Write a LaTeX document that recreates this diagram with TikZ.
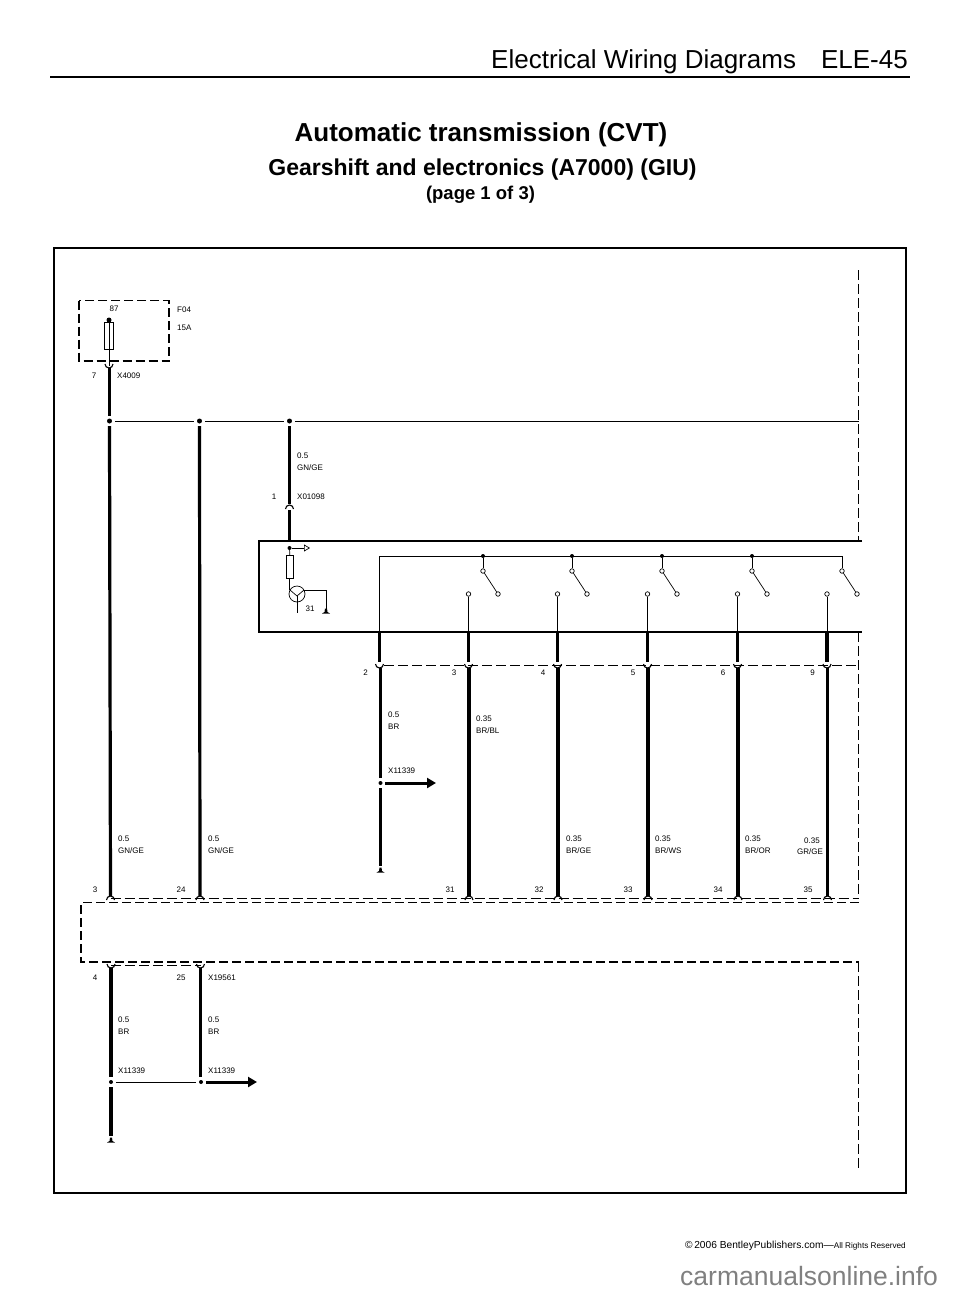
\documentclass[tikz,border=0pt]{standalone}
\usepackage{fontspec}
\setmainfont{Liberation Sans}
\usetikzlibrary{arrows.meta, calc}
\tikzset{
    wire/.style={line width=3.2pt},
    thinwire/.style={line width=0.7pt},
    boxline/.style={line width=1.6pt},
    dashline/.style={line width=1.2pt, dash pattern=on 9pt off 4pt},
    dashthin/.style={line width=0.6pt, dash pattern=on 10pt off 4pt},
    tag/.style={font=\fontsize{8}{9}\selectfont, inner sep=0pt, anchor=west},
    pin/.style={font=\fontsize{8}{9}\selectfont, inner sep=0pt},
    dot/.style={circle, fill=black, inner sep=0pt, minimum size=5pt},
    ring/.style={circle, draw, fill=white, line width=0.7pt, inner sep=0pt, minimum size=4.5pt},
    splice/.style={thinwire, shorten <=3pt, shorten >=3pt},
    bigarrow/.style={line width=3pt, -{Triangle[length=9pt,width=10pt]}}
}
% cup opening upwards, arch opening downwards, earth symbol
\newcommand{\cupat}[1]{\draw[line width=1.1pt] ($(#1)+(-4,-3)$) arc[start angle=180, end angle=360, radius=4pt];}
\newcommand{\archat}[1]{\draw[line width=1.1pt] ($(#1)+(-4,3)$) arc[start angle=180, end angle=0, radius=4pt];}
\newcommand{\gndat}[1]{\fill ($(#1)+(-4,2.5)$) -- ++(8,0) -- ++(-2.5,-1.5) -- ++(-0.5,-3.5) -- ++(-2,0) -- ++(-0.5,3.5) -- cycle;}
\begin{document}
\begin{tikzpicture}[x=1pt, y=-1pt]
    \useasboundingbox (0, 0) rectangle (960, 1295);

    % heading
    \node[anchor=base east, inner sep=0pt, font=\fontsize{26}{28}\selectfont] (head) at (908, 69) {Electrical Wiring Diagrams\hspace{25pt}ELE-45};
    \coordinate (ruleL) at (50, 77);
    \coordinate (ruleR) at (910, 77);
    \draw[line width=1.1pt] (ruleL) -- (ruleR);
    \node[anchor=base, inner sep=0pt, font=\bfseries\fontsize{26}{28}\selectfont] (title) at (481, 142) {Automatic transmission (CVT)};
    \node[anchor=base, inner sep=0pt, font=\bfseries\fontsize{23}{24}\selectfont] (subtitle) at (482.5, 175) {Gearshift and electronics (A7000) (GIU)};
    \node[anchor=base, inner sep=0pt, font=\bfseries\fontsize{18.5}{20}\selectfont] (pagenote) at (480.5, 199) {(page 1 of 3)};

    % frame
    \draw[line width=2pt] (54, 248) rectangle (906, 1193);

    % fuse box
    \draw[dashline] (79, 300.5) rectangle (169, 361);
    \node[pin] (p87) at (114, 309) {87};
    \node[tag] (f04) at (177, 310) {F04};
    \node[tag] (a15) at (177, 328) {15A};
    \node[dot] (fusetop) at (109, 320) {};
    \node[draw, thinwire, fill=white, minimum width=9.5pt, minimum height=27pt, inner sep=0pt] (fuse) at (109, 335.5) {};
    \coordinate (fusejoint) at (109, 366);
    \draw[thinwire] (fusetop) -- (fuse.north);
    \draw[thinwire] (fuse.north) -- (fuse.south);
    \draw[thinwire] (fuse.south) -- (fusejoint);
    \cupat{109, 367}
    \node[pin] (p7) at (94, 376) {7};
    \node[tag] (x4009) at (117, 376) {X4009};

    % splice line
    \node[dot] (splA) at (109.5, 421) {};
    \node[dot] (splB) at (199.5, 421) {};
    \node[dot] (splC) at (289.5, 421) {};
    \coordinate (splD) at (858.5, 421);
    \draw[splice] (splA) -- (splB);
    \draw[splice] (splB) -- (splC);
    \draw[thinwire, shorten <=3pt] (splC) -- (splD);

    % long wires
    \coordinate (a0) at (109.5, 368);
    \coordinate (a1) at (109.5, 416);
    \coordinate (a2) at (109.5, 426);
    \coordinate (a3) at (110.5, 896);
    \coordinate (b1) at (199.5, 426);
    \coordinate (b2) at (200, 896);
    \draw[wire] (a0) -- (a1);
    \draw[wire] (a2) -- (a3);
    \draw[wire] (b1) -- (b2);
    \coordinate (c1) at (289.5, 426);
    \coordinate (c2) at (289.5, 504);
    \coordinate (c3) at (289.5, 510);
    \coordinate (c4) at (289.5, 541);
    \draw[wire] (c1) -- (c2);
    \draw[wire] (c3) -- (c4);
    \archat{289.5, 506}
    \node[tag] (c05) at (297, 456) {0.5};
    \node[tag] (cgnge) at (297, 468) {GN/GE};
    \node[pin] (p1) at (274, 497) {1};
    \node[tag] (x01098) at (297, 497) {X01098};

    % control module
    \coordinate (modTL) at (259, 541);
    \coordinate (modBL) at (259, 632);
    \coordinate (modTR) at (862, 541);
    \coordinate (modBR) at (862, 632);
    \draw[boxline] (modTR) -- (modTL) -- (modBL) -- (modBR);
    \node[dot, minimum size=4pt] (inD) at (289.5, 548) {};
    \coordinate (inE) at (310, 548);
    \draw[thinwire, -{Triangle[open, length=6pt, width=7pt]}] (inD) -- (inE);
    \node[draw, thinwire, minimum width=6.5pt, minimum height=23.5pt, inner sep=0pt] (rfuse) at (289.8, 567) {};
    \coordinate (trbase) at (289.8, 590);
    \draw[thinwire] (inD) -- (rfuse.north);
    \draw[thinwire] (rfuse.south) -- (trbase);
    \node[circle, draw, thinwire, minimum size=16pt, inner sep=0pt] (trans) at (297, 594) {};
    \coordinate (trE) at (297, 612.5);
    \coordinate (trL) at (290, 590);
    \coordinate (trM) at (297, 596);
    \coordinate (trR) at (304, 590);
    \draw[thinwire] (trL) -- (trM) -- (trR);
    \draw[thinwire] (trM) -- (trE);
    \coordinate (gndT) at (326, 590);
    \coordinate (gndB) at (326, 610);
    \draw[thinwire] (trR) -- (gndT) -- (gndB);
    \gndat{326, 611}
    \node[pin] (p31) at (310, 609) {31};

    % switch rail
    \coordinate (railL) at (379.5, 556);
    \coordinate (railR) at (842, 556);
    \coordinate (railB) at (379.5, 632);
    \draw[thinwire] (railB) -- (railL) -- (railR);
    \foreach \name/\xa/\xb/\xc in {s3/483/498/468.5, s4/572/587/557.5, s5/662/677/647.5, s6/752/767/737.5} {
        \node[dot, minimum size=4pt] (\name top) at (\xa, 556) {};
        \node[ring] (\name pole) at (\xa, 571) {};
        \node[ring] (\name throw) at (\xb, 594) {};
        \node[ring] (\name fix) at (\xc, 594) {};
        \coordinate (\name bot) at (\xc, 632);
        \draw[thinwire] (\name top) -- (\name pole);
        \draw[thinwire] (\name pole) -- (\name throw);
        \draw[thinwire] (\name fix) -- (\name bot);
    }
    \node[ring] (s9pole) at (842, 571) {};
    \node[ring] (s9throw) at (857, 594) {};
    \node[ring] (s9fix) at (827, 594) {};
    \coordinate (s9bot) at (827, 632);
    \draw[thinwire] (railR) -- (s9pole);
    \draw[thinwire] (s9pole) -- (s9throw);
    \draw[thinwire] (s9fix) -- (s9bot);

    % connector below module
    \coordinate (conL) at (384, 665.5);
    \coordinate (conR) at (858.5, 665.5);
    \draw[dashthin] (conL) -- (conR);
    \foreach \xp/\xq/\lab in {379.5/380.5/2, 468.5/469/3, 557.5/558/4, 647.5/648/5, 737.5/738/6, 827/827.5/9} {
        \coordinate (up\lab) at (\xp, 632);
        \coordinate (dn\lab) at (\xp, 662);
        \draw[wire] (up\lab) -- (dn\lab);
        \cupat{\xp, 667}
        \node[pin] (n\lab) at (\xq-15, 673) {\lab};
    }
    \foreach \xq/\lab in {469/3, 558/4, 648/5, 738/6, 827.5/9} {
        \coordinate (top\lab) at (\xq, 668);
        \coordinate (low\lab) at (\xq, 896);
        \draw[wire] (top\lab) -- (low\lab);
    }
    \coordinate (w2a) at (380.5, 668);
    \coordinate (w2b) at (380.5, 778);
    \coordinate (w2c) at (380.5, 788);
    \coordinate (w2d) at (380.5, 866);
    \draw[wire] (w2a) -- (w2b);
    \draw[wire] (w2c) -- (w2d);
    \node[dot, minimum size=4pt] (split2) at (380.5, 783) {};
    \coordinate (arr2) at (436, 783);
    \draw[bigarrow] (385, 783) -- (arr2);
    \gndat{380.5, 870}
    \node[tag] (t05) at (388, 715) {0.5};
    \node[tag] (tbr) at (388, 727) {BR};
    \node[tag] (t035) at (476, 719) {0.35};
    \node[tag] (tbrbl) at (476, 731) {BR/BL};
    \node[tag] (tx) at (388, 771) {X11339};

    % wire sizes and colours above the lower connector
    \node[tag] (la05) at (118, 839) {0.5};
    \node[tag] (lagn) at (118, 851) {GN/GE};
    \node[tag] (lb05) at (208, 839) {0.5};
    \node[tag] (lbgn) at (208, 851) {GN/GE};
    \node[tag] (l4s) at (566, 839) {0.35};
    \node[tag] (l4c) at (566, 851) {BR/GE};
    \node[tag] (l5s) at (655, 839) {0.35};
    \node[tag] (l5c) at (655, 851) {BR/WS};
    \node[tag] (l6s) at (745, 839) {0.35};
    \node[tag] (l6c) at (745, 851) {BR/OR};
    \node[tag] (l9s) at (804, 841) {0.35};
    \node[tag] (l9c) at (797, 852) {GR/GE};

    % lower connector
    \coordinate (tl) at (110.5, 898.5);
    \coordinate (tr) at (858.5, 898.5);
    \draw[dashthin] (tl) -- (tr);
    \foreach \xp/\xl/\lab in {110.5/95/3, 200/181/24, 469/450/31, 558/539/32, 648/628/33, 738/718/34, 827.5/808/35} {
        \archat{\xp, 897}
        \node[pin] (m\lab) at (\xl, 890) {\lab};
    }
    \coordinate (lowTR) at (858.5, 902.5);
    \coordinate (lowTL) at (81, 902.5);
    \coordinate (lowBL) at (81, 962);
    \coordinate (lowBR) at (858.5, 962);
    \draw[dashline] (lowTR) -- (lowTL) -- (lowBL) -- (lowBR);

    % below lower connector
    \coordinate (ql) at (111, 965.5);
    \coordinate (qr) at (200.5, 965.5);
    \draw[dashthin] (ql) -- (qr);
    \cupat{111, 967}
    \cupat{200.5, 967}
    \node[pin] (q4) at (95, 978) {4};
    \node[pin] (q25) at (181, 978) {25};
    \node[tag] (x19561) at (208, 978) {X19561};
    \coordinate (d1) at (111, 968);
    \coordinate (d2) at (111, 1077);
    \coordinate (d3) at (111, 1087);
    \coordinate (d4) at (111, 1136);
    \coordinate (e1) at (200.5, 968);
    \coordinate (e2) at (200.5, 1077);
    \draw[wire] (d1) -- (d2);
    \draw[wire] (d3) -- (d4);
    \draw[wire] (e1) -- (e2);
    \node[dot, minimum size=4pt] (splF) at (111, 1082) {};
    \node[dot, minimum size=4pt] (splG) at (201, 1082) {};
    \coordinate (arrG) at (257, 1082);
    \draw[splice] (splF) -- (splG);
    \draw[bigarrow] (206, 1082) -- (arrG);
    \gndat{111, 1140}
    \node[tag] (d05) at (118, 1020) {0.5};
    \node[tag] (dbr) at (118, 1032) {BR};
    \node[tag] (dx) at (118, 1071) {X11339};
    \node[tag] (e05) at (208, 1020) {0.5};
    \node[tag] (ebr) at (208, 1032) {BR};
    \node[tag] (ex) at (208, 1071) {X11339};

    % right hand dashed line
    \coordinate (rA) at (858.5, 270);
    \coordinate (rB) at (858.5, 541);
    \coordinate (rC) at (858.5, 632);
    \coordinate (rD) at (858.5, 898);
    \coordinate (rE) at (858.5, 962);
    \coordinate (rF) at (858.5, 1170);
    \draw[dashthin] (rA) -- (rB);
    \draw[dashthin] (rC) -- (rD);
    \draw[dashthin] (rE) -- (rF);

    % footer
    \node[anchor=base east, inner sep=0pt, font=\fontsize{10.2}{12}\selectfont] (foot) at (906, 1248) {©\,2006 BentleyPublishers.com—{\fontsize{8.2}{10}\selectfont All Rights Reserved}};
    \node[anchor=base west, inner sep=0pt, text=black!50, font=\fontsize{26.5}{28}\selectfont] (site) at (680, 1285) {carmanualsonline.info};
\end{tikzpicture}
\end{document}
